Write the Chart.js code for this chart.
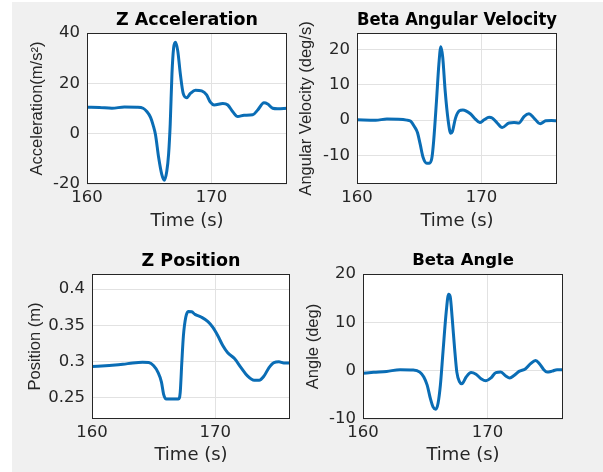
<!DOCTYPE html>
<html>
<head>
<meta charset="utf-8">
<script src="https://cdn.jsdelivr.net/npm/chart.js@4.4.1/dist/chart.umd.min.js"></script>
<style>
html, body { margin: 0; padding: 0; background: #fff; }
#fig { position: absolute; left: 12px; top: 2px; width: 591px; height: 470px; background: #f0f0f0; }
canvas { position: absolute; }
</style>
</head>
<body>
<div id="fig"></div>
<canvas id="acc" width="290" height="236" style="left:0px;top:0px"></canvas>
<canvas id="vel" width="313" height="236" style="left:290px;top:0px"></canvas>
<canvas id="pos" width="290" height="236" style="left:0px;top:236px"></canvas>
<canvas id="ang" width="313" height="236" style="left:290px;top:236px"></canvas>
<script>
// values
const timeAcc = [160, 161, 162, 163, 164, 164.5, 164.8, 165.1, 165.3, 165.5, 165.75, 166.0, 166.2, 166.4, 166.55, 166.68, 166.82, 166.95, 167.1, 167.28, 167.5, 167.72, 168.0, 168.3, 168.7, 169.2, 169.6, 169.9, 170.2, 170.9, 171.3, 171.7, 172.1, 172.6, 173.3, 173.7, 174.2, 174.5, 174.9, 175.3, 176.05];
const accZ = [10.5, 10.4, 10.1, 10.6, 10.5, 10.1, 8.8, 6.5, 3.5, -0.5, -9.5, -16.2, -18.5, -15, -8, 4, 24, 34, 36.3, 33, 23.3, 16, 14.3, 16, 17.3, 17, 15.4, 12.5, 11.4, 12, 11.4, 8.7, 6.8, 7.3, 7.5, 9.4, 12.3, 11.8, 10.1, 9.9, 10.1];

const timeVel = [160, 161.5, 162.4, 164.0, 164.3, 164.6, 164.85, 165.07, 165.3, 165.6, 165.8, 166.0, 166.15, 166.38, 166.57, 166.73, 166.88, 167.07, 167.32, 167.52, 167.65, 167.9, 168.2, 168.5, 169.1, 169.5, 169.85, 170.2, 170.6, 170.85, 171.25, 171.65, 172.2, 172.6, 173.0, 173.4, 173.8, 174.2, 174.7, 175.15, 175.6, 176.05];
const velBeta = [0.1, 0, 0.3, 0, -0.3, -1.8, -3.5, -6.8, -10.5, -12.2, -12.2, -10.9, -6, 5.5, 15.8, 20.8, 17.8, 8.5, -0.2, -3.7, -3.3, 0.5, 2.6, 2.9, 1.8, 0.3, -0.7, 0.1, 0.8, 0.6, -0.8, -2.1, -0.8, -0.7, -0.8, 1, 1.8, 0.6, -1, -0.2, -0.1, -0.2];

const timePos = [160, 161.4, 162.5, 163.3, 164.1, 164.6, 165.0, 165.35, 165.63, 165.8, 166.03, 166.5, 167.0, 167.15, 167.28, 167.41, 167.6, 167.8, 168.08, 168.35, 168.88, 169.4, 169.8, 170.2, 170.6, 171.0, 171.55, 172.08, 172.6, 173.15, 173.55, 173.95, 174.35, 174.75, 175.15, 175.55, 176.05];
const posZ = [0.293, 0.2945, 0.296, 0.298, 0.299, 0.2985, 0.294, 0.285, 0.2715, 0.255, 0.248, 0.248, 0.248, 0.257, 0.2985, 0.3355, 0.361, 0.369, 0.3686, 0.365, 0.361, 0.355, 0.347, 0.3355, 0.322, 0.312, 0.304, 0.2915, 0.28, 0.274, 0.274, 0.28, 0.2915, 0.2985, 0.2995, 0.298, 0.298];

const timeAng = [160, 160.85, 161.9, 162.97, 164.03, 164.56, 164.88, 165.15, 165.41, 165.62, 165.84, 166.02, 166.21, 166.42, 166.68, 166.87, 167.0, 167.16, 167.35, 167.53, 167.75, 167.93, 168.28, 168.67, 169.07, 169.47, 169.87, 170.27, 170.66, 171.06, 171.46, 171.78, 172.12, 172.52, 173.05, 173.45, 173.85, 174.16, 174.51, 174.77, 175.17, 175.57, 176.05];
const angBeta = [-0.55, -0.35, -0.15, 0.2, 0.15, -0.3, -1.3, -3, -5.8, -7.5, -8, -6.8, -3, 3.9, 12.2, 15.8, 15.3, 10.8, 4.6, -0.3, -2.3, -2.7, -1.3, -0.4, -0.75, -1.65, -2.1, -1.5, -0.4, -0.3, -1.1, -1.5, -1, -0.15, 0.4, 1.45, 2.1, 1.45, 0.2, -0.3, -0.1, 0.2, 0.2];

const timeRange = [160, 176.05];
const timeTicks = [160, 170];
const accRange = [-20, 40];
const accTicks = [-20, 0, 20, 40];
const velRange = [-18.1, 24.7];
const velTicks = [-10, 0, 10, 20];
const posRange = [0.2205, 0.4208];
const posTicks = [0.25, 0.3, 0.35, 0.4];
const angRange = [-10, 20];
const angTicks = [-10, 0, 10, 20];

Chart.defaults.font.family = 'DejaVu Sans';
Chart.defaults.color = '#262626';

// white axes background + box round the plot
const frame = {
  id: 'frame',
  beforeDraw(c) {
    const a = c.chartArea, ctx = c.ctx;
    ctx.save();
    ctx.fillStyle = '#fff';
    ctx.fillRect(a.left, a.top, a.right - a.left, a.bottom - a.top);
    ctx.restore();
  },
  afterDraw(c) {
    const a = c.chartArea, ctx = c.ctx;
    ctx.save();
    ctx.strokeStyle = '#262626';
    ctx.lineWidth = 1;
    ctx.strokeRect(a.left + 0.5, a.top + 0.5, a.right - a.left - 1, a.bottom - a.top - 1);
    ctx.restore();
  }
};

function panel(id, p) {
  const [bx, by, bw, bh] = p.box;
  const [L, T, R, B] = p.area;
  const tlh = p.titleSize * 1.2;
  const xlh = 18 * 1.2;
  const ylh = 16.5 * 1.2;
  new Chart(document.getElementById(id), {
    type: 'line',
    data: {
      datasets: [{
        data: p.t.map((x, i) => ({x: x, y: p.v[i]})),
        borderColor: '#0a6db5',
        borderWidth: 3,
        pointRadius: 0,
        fill: false,
        cubicInterpolationMode: 'monotone'
      }]
    },
    options: {
      responsive: false,
      animation: false,
      devicePixelRatio: 1,
      layout: { padding: { left: 0, top: 0, bottom: 0, right: bx + bw - R } },
      plugins: {
        legend: { display: false },
        tooltip: { enabled: false },
        title: {
          display: true,
          text: p.title,
          fullSize: false,
          color: '#000',
          font: { size: p.titleSize, weight: 'bold' },
          padding: { top: p.titleY - by - tlh / 2, bottom: T - p.titleY - tlh / 2 }
        }
      },
      scales: {
        x: {
          type: 'linear',
          min: timeRange[0],
          max: timeRange[1],
          afterFit: s => { s.height = by + bh - B; },
          afterBuildTicks: s => { s.ticks = timeTicks.map(v => ({value: v})); },
          ticks: { font: { size: 16.5 }, padding: 14 - 9.9, maxRotation: 0, callback: v => String(v) },
          grid: { color: '#e2e2e2', drawTicks: false },
          border: { display: false },
          title: {
            display: true,
            text: 'Time (s)',
            font: { size: 18 },
            padding: { top: 0, bottom: by + bh - p.xTitleY - xlh / 2 }
          }
        },
        y: {
          min: p.range[0],
          max: p.range[1],
          afterFit: s => { s.width = L - bx; },
          afterBuildTicks: s => { s.ticks = p.ticks.map(v => ({value: v})); },
          ticks: { font: { size: 16.5 }, padding: 7, callback: v => String(v) },
          grid: { color: '#e2e2e2', drawTicks: false },
          border: { display: false },
          title: {
            display: true,
            text: p.yTitle,
            font: { family: 'Liberation Sans', size: 16.5 },
            padding: { top: p.yTitleX - bx - ylh / 2, bottom: 0 }
          }
        }
      }
    },
    plugins: [frame]
  });
}

panel('acc', {
  box: [0, 0, 290, 236], area: [87, 33, 287, 184],
  title: 'Z Acceleration', titleSize: 17.5, titleY: 20.5, xTitleY: 221.5,
  yTitle: 'Acceleration(m/s\u00b2)', yTitleX: 37,
  t: timeAcc, v: accZ, range: accRange, ticks: accTicks
});
panel('vel', {
  box: [290, 0, 313, 236], area: [357, 33, 557, 184],
  title: 'Beta Angular Velocity', titleSize: 17.5, titleY: 20.5, xTitleY: 221.5,
  yTitle: 'Angular Velocity (deg/s)', yTitleX: 306,
  t: timeVel, v: velBeta, range: velRange, ticks: velTicks
});
panel('pos', {
  box: [0, 236, 290, 236], area: [92, 274, 293, 419],
  title: 'Z Position', titleSize: 17.5, titleY: 261, xTitleY: 455,
  yTitle: 'Position (m)', yTitleX: 35,
  t: timePos, v: posZ, range: posRange, ticks: posTicks
});
panel('ang', {
  box: [290, 236, 313, 236], area: [363, 274, 563, 419],
  title: 'Beta Angle', titleSize: 16.5, titleY: 260.5, xTitleY: 455,
  yTitle: 'Angle (deg)', yTitleX: 313,
  t: timeAng, v: angBeta, range: angRange, ticks: angTicks
});
</script>
</body>
</html>
